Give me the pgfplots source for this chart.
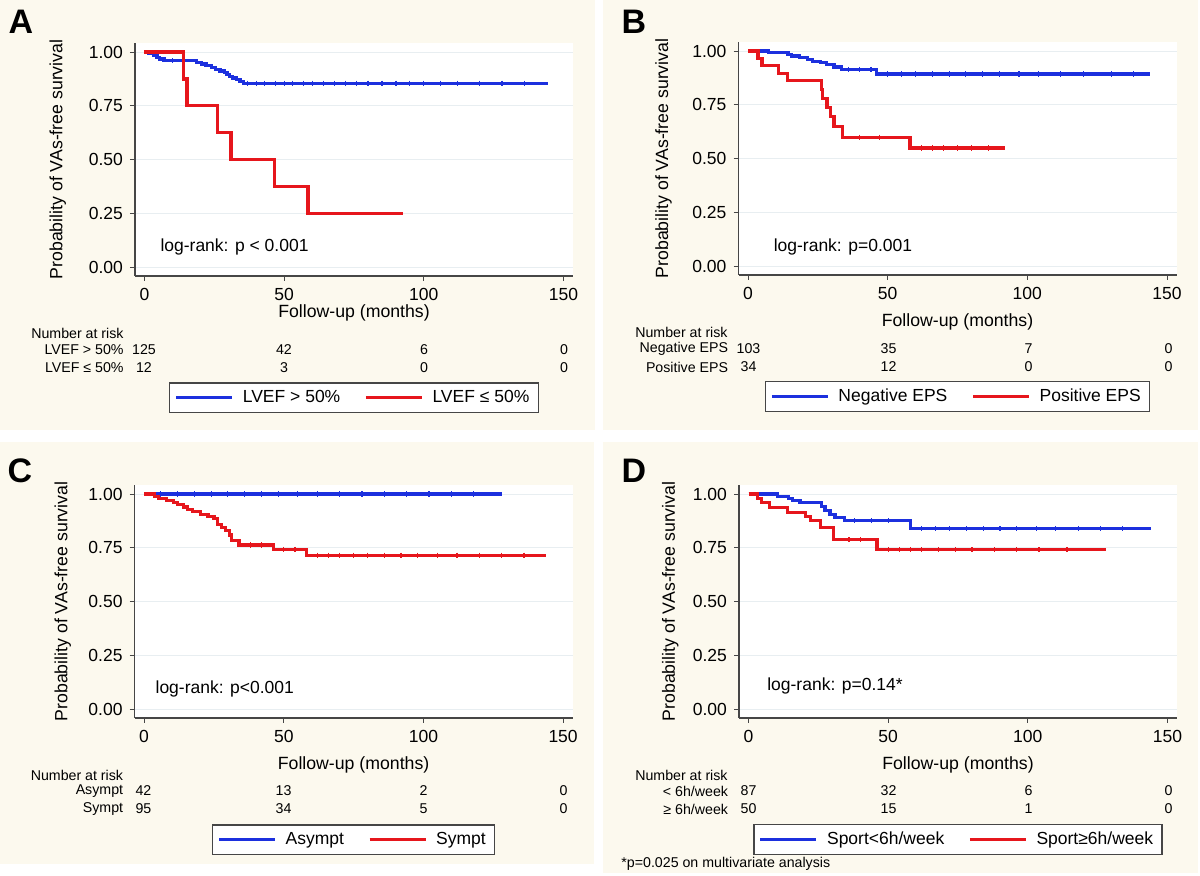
\documentclass[border=0pt]{standalone}
\usepackage{fontspec}
\setmainfont{Liberation Sans}
\usepackage{pgfplots}
\pgfplotsset{compat=1.18}

\definecolor{panelbg}{RGB}{252,249,238}
\definecolor{gridc}{RGB}{232,238,241}
\definecolor{axc}{RGB}{70,70,70}
\definecolor{kmblue}{RGB}{28,48,222}
\definecolor{kmred}{RGB}{230,22,28}

\newcommand{\mainfs}{\fontsize{8.75}{10.5}\selectfont}
\newcommand{\labfs}{\fontsize{8.85}{10.5}\selectfont}
\newcommand{\riskfs}{\fontsize{7.1}{8.5}\selectfont}

% one row of the risk table: x of month 0, y, label, four counts
\newcommand{\riskrow}[7]{%
  \node[anchor=east,font=\riskfs,inner sep=0pt] at (#1-20,#2) {#3};
  \node[font=\riskfs,inner sep=0pt] at (#1,#2) {#4};
  \node[font=\riskfs,inner sep=0pt] at (#1+140,#2) {#5};
  \node[font=\riskfs,inner sep=0pt] at (#1+280,#2) {#6};
  \node[font=\riskfs,inner sep=0pt] at (#1+420,#2) {#7};
}

\pgfplotsset{
  km/.style={
    scale only axis, width=219pt, height=116.5pt,
    xmin=-3.4, xmax=153.4, ymin=-0.04, ymax=1.042,
    axis lines=left, axis line style={-, draw=axc, line width=0.6pt},
    xtick={0,50,100,150}, ytick={0,0.25,0.5,0.75,1},
    yticklabel style={/pgf/number format/.cd, fixed, fixed zerofill, precision=2},
    /pgf/number format/assume math mode=true,
    tick align=outside, major tick length=2.5pt,
    tick style={draw=axc, line width=0.5pt},
    ymajorgrids, grid style={draw=gridc, line width=0.5pt},
    axis background/.style={fill=white},
    tick label style={font=\mainfs},
    xlabel={Follow-up (months)},
    ylabel={Probability of VAs-free survival},
    every axis y label/.style={at={(axis description cs:-0.172,0.5)}, rotate=90,
      anchor=center, font=\labfs},
    every axis x label/.style={at={(axis description cs:0.5,-0.2)}, anchor=center,
      font=\labfs},
    legend columns=2,
    legend style={at={(0.5,-0.522)}, anchor=center, font=\mainfs, draw=axc,
      line width=0.7pt, fill=white, inner xsep=2.5pt, inner ysep=1.5pt,
      /tikz/every odd column/.append style={column sep=2.5pt},
      /tikz/every even column/.append style={column sep=10pt}},
    legend image code/.code={\draw[#1] (0pt,0pt) -- (28pt,0pt);},
    clip=false,
  },
  surv/.style={const plot, line width=1.6pt, mark=none},
  cens/.style={only marks, mark=|, mark size=1.3pt, line width=0.6pt, forget plot},
}

\begin{document}
\begin{tikzpicture}[x=0.5pt,y=0.5pt]
\useasboundingbox (0,0) rectangle (1200,876);
\fill[white] (0,0) rectangle (1200,876);
\fill[panelbg] (0,446) rectangle (595,876);
\fill[panelbg] (603,446) rectangle (1198,876);
\fill[panelbg] (0,12) rectangle (594,434);
\fill[panelbg] (603,3) rectangle (1198,434);
\coordinate (pA) at (135,600);
\coordinate (pB) at (738.5,601);
\coordinate (pC) at (134.6,158);
\coordinate (pD) at (739,158);

% ---------- A ----------
\begin{axis}[km, at={(pA)}, anchor=south west,
  x label style={at={(axis description cs:0.5,-0.159)}},
  y label style={at={(axis description cs:-0.176,0.5)}}]
\addplot[surv, kmblue] coordinates {
 (0,1) (1.5,0.992) (3.3,0.984) (4.5,0.976) (5.5,0.968) (7,0.96) (18.5,0.952)
 (20.5,0.944) (22,0.936) (24,0.928) (25.5,0.920) (27,0.912) (28.5,0.904)
 (29.5,0.895) (30.5,0.887) (31.5,0.879) (33,0.871) (34.2,0.863) (35.5,0.855)
 (144.3,0.855)};
\addplot[surv, kmred] coordinates {
 (0,1) (14,0.875) (15.2,0.75) (26.2,0.625) (31,0.5) (46.5,0.375) (58.5,0.25)
 (92.5,0.25)};
\addplot[cens, kmblue] coordinates {
 (10,0.96) (37,0.855) (40,0.855) (43,0.855) (47,0.855) (50,0.855) (53,0.855)
 (57,0.855) (60,0.855) (64,0.855) (68,0.855) (72,0.855) (76,0.855) (80,0.855)
 (85,0.855) (90,0.855) (95,0.855) (100,0.855) (106,0.855) (112,0.855)
 (120,0.855) (128,0.855) (136,0.855)};
\node[anchor=west, font=\mainfs] at (axis cs:3.2,0.097) {log-rank: p < 0.001};
\legend{LVEF > 50\%, LVEF ≤ 50\%}
\end{axis}
\node[font=\bfseries\fontsize{17}{17}\selectfont] at (21,854) {A};
\node[anchor=east,font=\riskfs,inner sep=0pt] at (124,543) {Number at risk};
\riskrow{144}{526}{LVEF > 50\%}{125}{42}{6}{0}
\riskrow{144}{508}{LVEF ≤ 50\%}{12}{3}{0}{0}

% ---------- B ----------
\begin{axis}[km, at={(pB)}, anchor=south west,
  y label style={at={(axis description cs:-0.171,0.5)}}]
\addplot[surv, kmblue] coordinates {
 (0,1) (7.4,0.992) (14.3,0.984) (15.7,0.977) (18.4,0.969) (21.2,0.961)
 (23.2,0.953) (26,0.945) (28.1,0.936) (30.8,0.926) (33.5,0.914) (46,0.893)
 (144,0.893)};
\addplot[surv, kmred] coordinates {
 (0,1) (3.6,0.966) (5,0.931) (10.8,0.897) (14,0.862) (26.2,0.82) (26.8,0.778)
 (28.3,0.738) (29.6,0.695) (30.8,0.648) (33.8,0.6) (58,0.55) (92,0.55)};
\addplot[cens, kmblue] coordinates {
 (36,0.914) (40,0.914) (44,0.914) (50,0.893) (55,0.893) (60,0.893) (66,0.893)
 (72,0.893) (78,0.893) (84,0.893) (90,0.893) (97,0.893) (104,0.893)
 (112,0.893) (120,0.893) (130,0.893) (138,0.893)};
\addplot[cens, kmred] coordinates {
 (40,0.6) (47,0.6) (62,0.55) (66,0.55) (70,0.55) (75,0.55) (80,0.55) (86,0.55)};
\node[anchor=west, font=\mainfs] at (axis cs:6.7,0.088) {log-rank: p=0.001};
\legend{Negative EPS, Positive EPS}
\end{axis}
\node[font=\bfseries\fontsize{17}{17}\selectfont] at (634,854) {B};
\node[anchor=east,font=\riskfs,inner sep=0pt] at (728,544) {Number at risk};
\riskrow{748.5}{527}{Negative EPS}{103}{35}{7}{0}
\riskrow{748.5}{509}{Positive EPS}{34}{12}{0}{0}

% ---------- C ----------
\begin{axis}[km, at={(pC)}, anchor=south west,
  y label style={at={(axis description cs:-0.164,0.5)}}]
\addplot[surv, kmblue] coordinates {(0,1) (128,1)};
\addplot[surv, kmred] coordinates {
 (0,1) (3.7,0.99) (5.1,0.98) (7.9,0.97) (10.6,0.96) (12,0.95) (14,0.94)
 (15.4,0.93) (17.4,0.918) (20.2,0.905) (22.9,0.895) (25,0.887) (26.4,0.86)
 (27.8,0.845) (29.2,0.83) (30.5,0.81) (31.2,0.785) (34,0.763) (46.3,0.743)
 (58,0.716) (143.8,0.716)};
\addplot[cens, kmblue] coordinates {
 (6,1) (12,1) (18,1) (24,1) (30,1) (36,1) (42,1) (48,1) (55,1) (62,1) (70,1)
 (78,1) (86,1) (94,1) (102,1) (110,1) (118,1)};
\addplot[cens, kmred] coordinates {
 (38,0.763) (42,0.763) (50,0.743) (54,0.743) (62,0.716) (66,0.716) (70,0.716)
 (75,0.716) (80,0.716) (86,0.716) (92,0.716) (98,0.716) (105,0.716)
 (112,0.716) (120,0.716) (128,0.716) (136,0.716)};
\node[anchor=west, font=\mainfs] at (axis cs:1.6,0.096) {log-rank: p<0.001};
\legend{Asympt, Sympt}
\end{axis}
\node[font=\bfseries\fontsize{17}{17}\selectfont] at (20,405) {C};
\node[anchor=east,font=\riskfs,inner sep=0pt] at (123.5,101) {Number at risk};
\riskrow{143.5}{85}{Asympt}{42}{13}{2}{0}
\riskrow{143.5}{67}{Sympt}{95}{34}{5}{0}

% ---------- D ----------
\begin{axis}[km, at={(pD)}, anchor=south west,
  y label style={at={(axis description cs:-0.157,0.5)}}]
\addplot[surv, kmblue] coordinates {
 (0,1) (10.5,0.989) (14.3,0.978) (15.7,0.969) (18.4,0.961) (26,0.943)
 (27.4,0.922) (29.2,0.904) (31,0.891) (34.5,0.876) (57.9,0.839) (144,0.839)};
\addplot[surv, kmred] coordinates {
 (0,1) (3.3,0.98) (4.7,0.96) (7.5,0.938) (14,0.916) (20.5,0.895) (22.3,0.876)
 (25.7,0.845) (30.5,0.788) (46,0.741) (128,0.741)};
\addplot[cens, kmblue] coordinates {
 (38,0.876) (44,0.876) (50,0.876) (62,0.839) (67,0.839) (72,0.839) (78,0.839)
 (84,0.839) (90,0.839) (96,0.839) (103,0.839) (110,0.839) (118,0.839)
 (126,0.839) (134,0.839)};
\addplot[cens, kmred] coordinates {
 (36,0.788) (40,0.788) (50,0.741) (54,0.741) (58,0.741) (62,0.741) (68,0.741)
 (74,0.741) (80,0.741) (88,0.741) (96,0.741) (104,0.741) (114,0.741)};
\node[anchor=west, font=\mainfs] at (axis cs:4.2,0.107) {log-rank: p=0.14*};
\legend{Sport<6h/week, Sport≥6h/week}
\end{axis}
\node[font=\bfseries\fontsize{17}{17}\selectfont] at (634,405) {D};
\node[anchor=east,font=\riskfs,inner sep=0pt] at (728,101) {Number at risk};
\riskrow{748.5}{85}{< 6h/week}{87}{32}{6}{0}
\riskrow{748.5}{67}{≥ 6h/week}{50}{15}{1}{0}
\node[anchor=west,font=\riskfs,inner sep=0pt] at (621,12) {*p=0.025 on multivariate analysis};
\end{tikzpicture}
\end{document}
